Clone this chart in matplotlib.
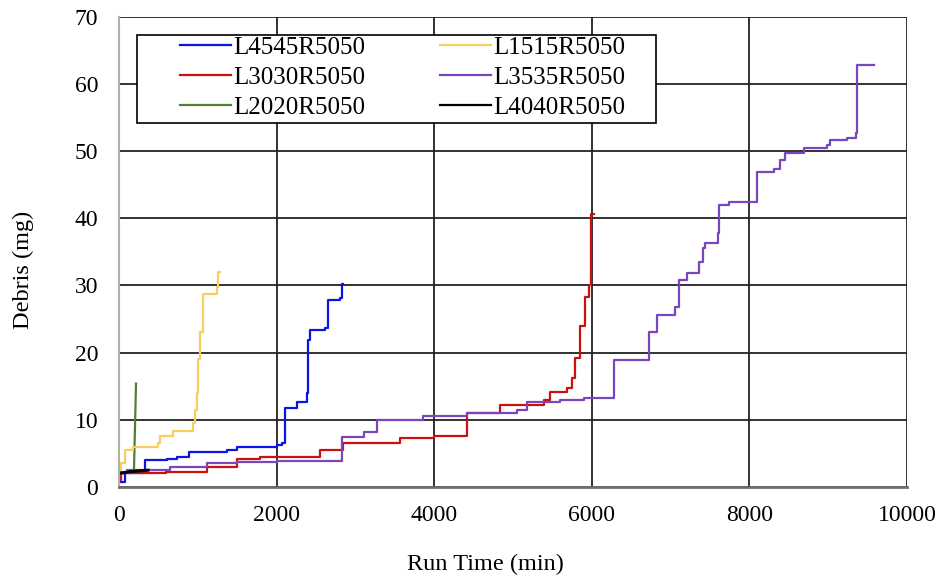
import matplotlib
matplotlib.use("Agg")
import matplotlib.pyplot as plt
from matplotlib.patches import Rectangle

# ---- data ----
blue_x = [0, 80, 334, 610, 736, 885, 1368, 1495, 2002, 2066, 2108, 2256, 2383, 2404, 2425, 2616, 2658, 2806, 2828, 2840]
blue_y = [0.8, 2.1, 3.95, 4.2, 4.5, 5.2, 5.5, 6.0, 6.3, 6.6, 11.7, 12.7, 14.0, 21.9, 23.3, 23.6, 27.8, 28.1, 30.2, 30.2]

yellow_x = [0, 30, 76, 182, 499, 520, 690, 944, 965, 986, 1000, 1029, 1071, 1240, 1261, 1283]
yellow_y = [2.0, 3.6, 5.5, 6.0, 6.5, 7.6, 8.3, 9.5, 11.5, 14.0, 19.0, 23.1, 28.8, 29.8, 32.0, 32.0]

red_x = [0, 30, 600, 1114, 1495, 1790, 2552, 2848, 3568, 4000, 4415, 4838, 5388, 5473, 5685, 5749, 5790, 5854, 5917, 5960, 5990, 6023]
red_y = [1.0, 2.1, 2.3, 3.0, 4.1, 4.5, 5.5, 6.6, 7.3, 7.6, 11.0, 12.2, 13.0, 14.2, 14.8, 16.2, 19.2, 23.9, 28.3, 30.1, 40.6, 40.6]

purple_x = [0, 100, 648, 1114, 1495, 2000, 2500, 2828, 3103, 3272, 3864, 4415, 5050, 5177, 5600, 5896, 6277, 6721, 6828,
            7060, 7102, 7209, 7357, 7412, 7441, 7600, 7615, 7737, 8098, 8309, 8394, 8457, 8690, 8987, 9029, 9240, 9359, 9370, 9578]
purple_y = [2.3, 2.5, 3.0, 3.6, 3.7, 3.8, 3.9, 7.5, 8.2, 10.0, 10.6, 11.0, 11.5, 12.6, 12.9, 13.2, 18.9, 23.0, 25.6,
            26.8, 30.8, 31.8, 33.5, 35.5, 36.3, 37.8, 41.9, 42.4, 46.9, 47.4, 48.6, 49.7, 50.5, 50.9, 51.6, 52.0, 52.7, 62.8, 62.8]

green_x = [180, 190, 216]
green_y = [2.2, 2.5, 15.4]

black_x = [0, 150, 368]
black_y = [2.0, 2.3, 2.5]

x_ticks = [0, 2000, 4000, 6000, 8000, 10000]
y_ticks = [0, 10, 20, 30, 40, 50, 60, 70]

plt.rcParams['font.family'] = ['Liberation Serif', 'DejaVu Serif']

W, H = 940, 578
fig = plt.figure(figsize=(W / 100, H / 100), dpi=100)
ax_l, ax_r, ax_t, ax_b = 119, 907, 16.7, 487
ax = fig.add_axes([ax_l / W, (H - ax_b) / H, (ax_r - ax_l) / W, (ax_b - ax_t) / H])

def axx(px):
    return (px - ax_l) / (ax_r - ax_l)

def axy(py):
    return (ax_b - py) / (ax_b - ax_t)

lw = 1.6
ax.plot(blue_x, blue_y, drawstyle='steps-post', color='#0a14e6', lw=lw, label='L4545R5050')
ax.plot(red_x, red_y, drawstyle='steps-post', color='#cc1010', lw=lw, label='L3030R5050')
ax.plot(green_x, green_y, color='#4f8030', lw=lw, label='L2020R5050')
ax.plot(yellow_x, yellow_y, drawstyle='steps-post', color='#f5cf60', lw=lw, label='L1515R5050')
ax.plot(purple_x, purple_y, drawstyle='steps-post', color='#7a45bf', lw=lw, label='L3535R5050')
ax.plot(black_x, black_y, color='black', lw=2.2, label='L4040R5050')

ax.set_xlim(0, 10000)
ax.set_ylim(0, 70)
ax.set_xticks(x_ticks)
ax.set_yticks(y_ticks)
ax.tick_params(length=0, labelsize=17)
ax.tick_params(axis='x', pad=13)
ax.tick_params(axis='y', pad=15)
ax.grid(True, color='#222222', lw=1.3)
ax.set_axisbelow(True)
for s in ['top', 'right']:
    ax.spines[s].set_visible(False)
ax.spines['left'].set_color('#b0b0b0')
ax.spines['left'].set_linewidth(1.5)
ax.spines['bottom'].set_color('#707070')
ax.spines['bottom'].set_linewidth(2)

ax.set_xlabel('Run Time (min)', fontsize=17.5)
ax.xaxis.set_label_coords(axx(485), axy(564))
ax.xaxis.label.set_va('center')
ax.set_ylabel('Debris (mg)', fontsize=17.5)
ax.yaxis.set_label_coords(axx(23), axy(270))
ax.yaxis.label.set_va('center')

# legend frame
frame = Rectangle((axx(137), axy(123)), axx(656) - axx(137), axy(35) - axy(123),
                  transform=ax.transAxes, facecolor='white', edgecolor='black',
                  lw=1.2, zorder=4)
ax.add_patch(frame)

leg = ax.legend(loc='upper left', bbox_to_anchor=(axx(180), axy(36.5)), borderaxespad=0,
                ncol=2, fontsize=18, frameon=False, handlelength=2.04, handletextpad=0.08,
                columnspacing=3.0, labelspacing=0.3, borderpad=0)
leg.set_zorder(5)
for h in leg.get_lines():
    h.set_linewidth(1.6)

fig.savefig('out.png', dpi=100)
